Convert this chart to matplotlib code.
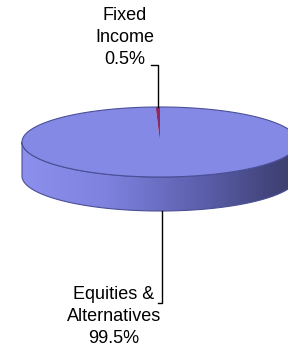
import numpy as np
import matplotlib
matplotlib.use("Agg")
import matplotlib.pyplot as plt
from matplotlib.patches import Polygon
from matplotlib.colors import LinearSegmentedColormap

plt.rcParams['font.family'] = ['Liberation Sans', 'DejaVu Sans']

# data (order as drawn clockwise from 12 o'clock)
categories = ["Equities &\nAlternatives", "Fixed\nIncome"]
values = [99.5, 0.5]
pct_labels = ["99.5%", "0.5%"]
top_colors = ["#8589E6", "#8C2A68"]

# pie geometry in pixels
cx, cy = 160, 142
a, b = 138, 35
depth = 34


def pt(theta_deg, dy=0.0):
    # theta measured clockwise from 12 o'clock
    t = np.radians(theta_deg)
    return cx + a * np.sin(t), cy - b * np.cos(t) + dy


fig = plt.figure(figsize=(2.88, 3.5), dpi=100)
ax = fig.add_axes([0, 0, 1, 1])
ax.set_xlim(0, 288)
ax.set_ylim(350, 0)
ax.axis('off')

# side of the cylinder (front half) with a shading gradient
th = np.linspace(90, 270, 200)
top_edge = np.array([pt(t) for t in th])
bot_edge = np.array([pt(t, depth) for t in th[::-1]])
side = Polygon(np.vstack([top_edge, bot_edge]), closed=True,
               facecolor='none', edgecolor='#4B4F96', lw=0.8, zorder=3)
ax.add_patch(side)
side_cmap = LinearSegmentedColormap.from_list(
    "side", [(0, "#8C90EC"), (0.3, "#7F83DF"), (0.5, "#6B6EC2"),
             (0.7, "#575AA3"), (0.88, "#44477F"), (1, "#3B3D6C")])
grad = np.linspace(0, 1, 300).reshape(1, -1)
im = ax.imshow(grad, cmap=side_cmap, aspect='auto',
               extent=[cx - a, cx + a, cy + b + depth + 2, cy - 2],
               zorder=2, interpolation='bilinear')
im.set_clip_path(side)

# top face slices
start = 0.0
total = sum(values)
mids = []
for v, col in zip(values, top_colors):
    span = 360 * v / total
    ts = np.linspace(start, start + span, max(int(span * 2), 3))
    verts = [(cx, cy)] + [pt(t) for t in ts]
    ax.add_patch(Polygon(verts, closed=True, facecolor=col,
                         edgecolor='none', zorder=4))
    mids.append(start + span / 2)
    start += span

ts = np.linspace(0, 360, 400)
ax.add_patch(Polygon([pt(t) for t in ts], closed=True, facecolor='none',
                     edgecolor='#4B4F96', lw=0.8, zorder=5))

# labels with leader lines
fs = 13
# Equities & Alternatives (bottom)
x0, y0 = pt(mids[0], depth)
ax.plot([x0, x0, x0 - 4], [y0, 303, 303], color='black', lw=1, zorder=6)
ax.text(114, 286, categories[0] + "\n" + pct_labels[0], ha='center', va='top',
        fontsize=fs, linespacing=1.38, color='black')
# Fixed Income (top)
x1, y1 = pt(mids[1])
ax.plot([x1, x1, x1 - 7], [y1, 65, 65], color='black', lw=1, zorder=6)
ax.text(125, 7, categories[1] + "\n" + pct_labels[1], ha='center', va='top',
        fontsize=fs, linespacing=1.38, color='black')

fig.savefig("out.png", dpi=100)
